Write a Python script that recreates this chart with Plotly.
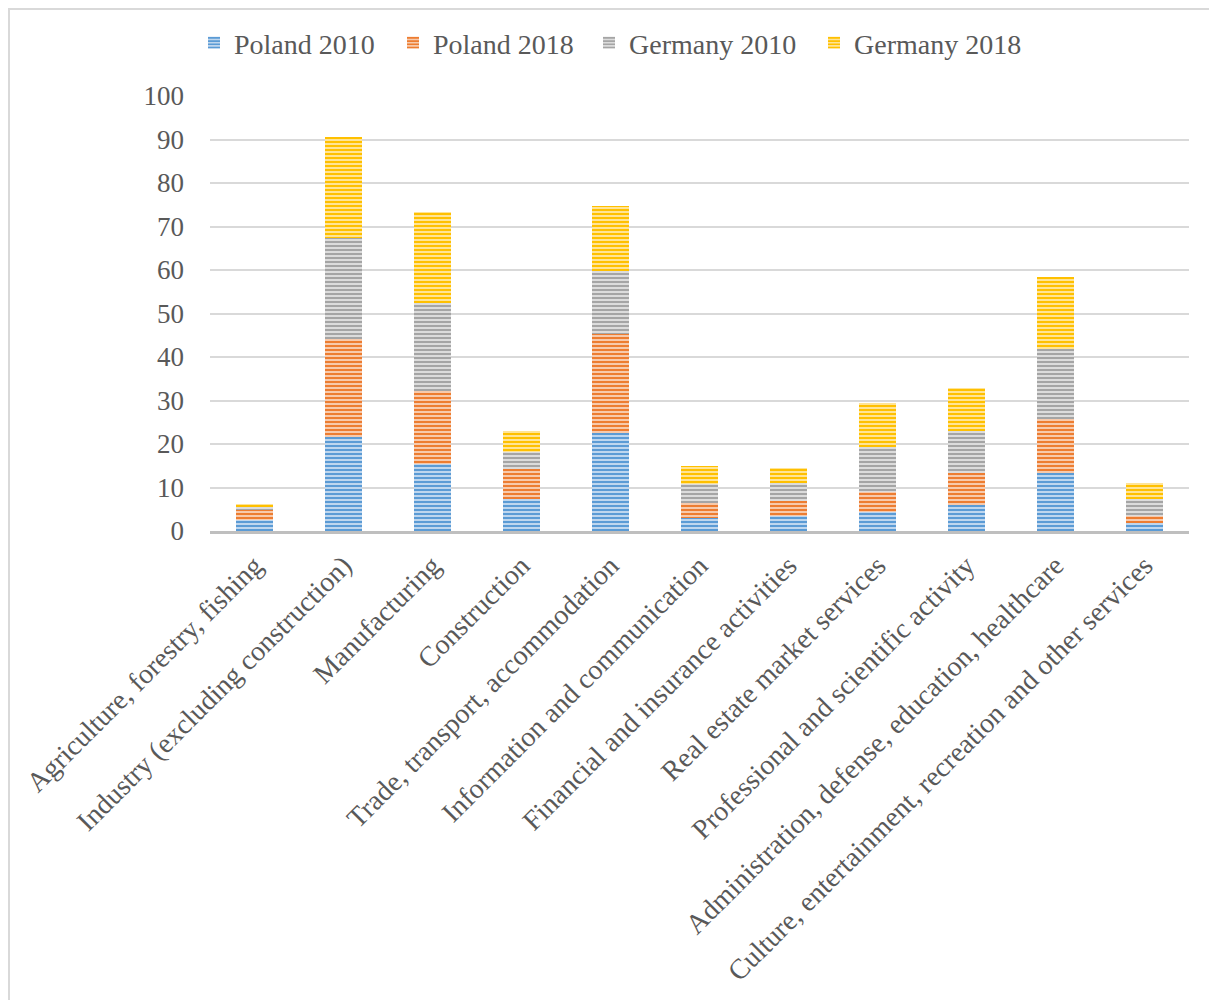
import plotly.graph_objects as go

categories = [
    "Agriculture, forestry, fishing",
    "Industry (excluding construction)",
    "Manufacturing",
    "Construction",
    "Trade, transport, accommodation",
    "Information and communication",
    "Financial and insurance activities",
    "Real estate market services",
    "Professional and scientific activity",
    "Administration, defense, education, healthcare",
    "Culture, entertainment, recreation and other services",
]
poland_2010 = [2.5, 21.5, 15.4, 7.3, 22.5, 3.1, 3.4, 4.4, 6.0, 13.4, 1.8]
poland_2018 = [2.3, 22.6, 16.9, 7.0, 22.9, 3.4, 3.6, 4.5, 7.4, 12.3, 1.7]
germany_2010 = [0.8, 23.3, 20.2, 3.9, 14.4, 4.2, 4.1, 10.3, 9.7, 16.2, 3.9]
germany_2018 = [0.7, 23.2, 20.9, 4.9, 14.8, 4.3, 3.4, 10.2, 9.8, 16.6, 3.6]

series = [
    ("Poland 2010", poland_2010, "#5B9BD5", "#C9DDF1"),
    ("Poland 2018", poland_2018, "#ED7D31", "#F9D3BA"),
    ("Germany 2010", germany_2010, "#A5A5A5", "#E2E2E2"),
    ("Germany 2018", germany_2018, "#FFC000", "#FFE8A6"),
]

FONT = "Liberation Serif, Times New Roman, serif"
W, H = 1209, 992
ML, MR, MT, MB = 202, 28, 88, 469
PW = W - ML - MR
PH = H - MT - MB

# legend text start positions (page px) -> separate legends for exact placement
legend_text_x = [234, 433, 629, 854]
legend_names = ["legend", "legend2", "legend3", "legend4"]

fig = go.Figure()
for (name, vals, col, light), lg in zip(series, legend_names):
    fig.add_trace(go.Bar(
        name=name, x=categories, y=vals, legend=lg,
        marker=dict(
            color=light,
            line=dict(width=0),
            pattern=dict(shape="-", fgcolor=col, bgcolor=light, size=4,
                         solidity=0.55, fillmode="replace"),
        ),
    ))

legend_layout = {}
for tx, lg in zip(legend_text_x, legend_names):
    legend_layout[lg] = dict(
        orientation="h", xref="container", x=(tx - 8 - 40) / W, xanchor="left",
        yref="container", y=1 - (43 - 8) / H, yanchor="middle",
        font=dict(size=28, family=FONT, color="#595959"),
        itemwidth=30, bgcolor="rgba(0,0,0,0)",
    )

fig.update_layout(
    barmode="stack",
    bargap=0.595,
    width=W, height=H,
    margin=dict(l=ML, r=MR, t=MT, b=MB, autoexpand=False),
    paper_bgcolor="white", plot_bgcolor="white",
    font=dict(family=FONT, color="#595959"),
    showlegend=True,
    **legend_layout,
)
fig.update_yaxes(
    range=[0, 100], dtick=10, showgrid=True, gridcolor="#D9D9D9", gridwidth=1.5,
    zeroline=False, showline=False, ticks="", automargin=False,
    tickfont=dict(size=27, family=FONT, color="#595959"),
    ticklabelstandoff=25,
)
fig.update_xaxes(
    showline=True, linecolor="#BFBFBF", linewidth=3, ticks="", automargin=False,
    tickangle=-45, tickfont=dict(size=28, family=FONT, color="#595959"),
    showgrid=False, ticklabelstandoff=4,
)
# outer border of the chart area (top and left edges visible)
fig.add_shape(type="rect", xref="paper", yref="paper",
              x0=(1 - ML) / PW, x1=(W + 20 - ML) / PW,
              y0=(MT + PH - H - 20) / PH, y1=(MT + PH - 1) / PH,
              line=dict(color="#D9D9D9", width=2), fillcolor="rgba(0,0,0,0)",
              layer="below")

fig.write_html("out.html")
